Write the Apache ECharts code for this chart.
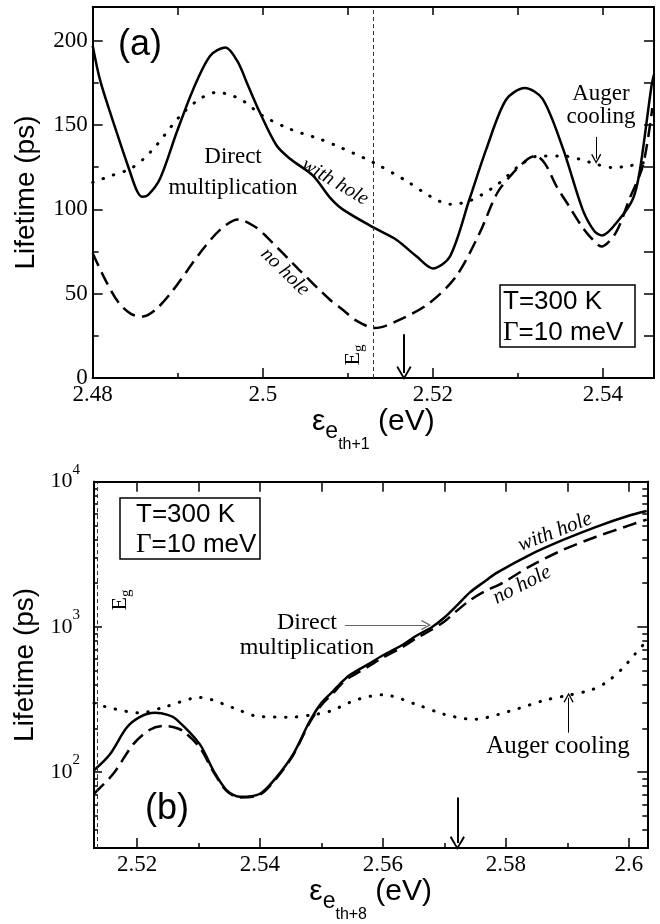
<!DOCTYPE html>
<html>
<head>
<meta charset="utf-8">
<script src="https://cdn.jsdelivr.net/npm/echarts@6/dist/echarts.min.js"></script>
<style>
html, body {margin: 0; padding: 0; background: #fff;}
#main {width: 660px; height: 924px;}
</style>
</head>
<body>
<div id="main"></div>
<script>
// panel (a): lifetime (ps) vs energy, linear scale
var aWithHole = [[2.4800,197],[2.4809,176],[2.4828,146],[2.4844,122],[2.4852,111],[2.4858,107.5],
    [2.4865,108.5],[2.4879,118],[2.4899,146],[2.4918,171],[2.4938,191],[2.4956,196],[2.4970,188],
    [2.4983,173],[2.4996,158],[2.5016,138],[2.5032,130],[2.5059,120],[2.5079,107],[2.5094,100],
    [2.5131,89],[2.5157,82],[2.5181,72],[2.5200,65],[2.5220,72],[2.5243,106],[2.5263,136],
    [2.5286,165],[2.5308,172],[2.5329,165.5],[2.5353,136],[2.5376,100],[2.5390,87],[2.5399,84.5],
    [2.5419,94],[2.5435,106],[2.5443,122],[2.5457,173],[2.5460,180]];
var aNoHole = [[2.4800,74],[2.4815,58],[2.4830,45],[2.4845,38],[2.4859,36.5],[2.4875,41],
    [2.4895,52.4],[2.4926,74],[2.4950,88],[2.4971,94],[2.4990,90],[2.5004,84],[2.5043,64],
    [2.5079,46.4],[2.5094,40.5],[2.5110,34],[2.5132,29.6],[2.5165,35.5],[2.5196,44.5],[2.5227,60],
    [2.5255,86],[2.5276,110],[2.5295,122],[2.5312,130],[2.5321,131.7],[2.5332,127],[2.5345,114],
    [2.5360,102],[2.5375,90],[2.5388,82],[2.5398,78],[2.5415,86],[2.5431,106],[2.5447,126],[2.5458,160]];
var aAuger = [[2.4800,116],[2.4822,120],[2.4844,124],[2.4860,130],[2.4875,138],[2.4903,155.5],
    [2.4926,165.5],[2.4946,169.4],[2.4973,165.5],[2.5000,155.5],[2.5032,147.6],[2.5067,141.7],
    [2.5090,137],[2.5130,127.8],[2.5169,116.8],[2.5196,108],[2.5220,103],[2.5243,105],[2.5274,114],
    [2.5302,126],[2.5325,131.7],[2.5353,131.7],[2.5372,129.8],[2.5392,126.8],[2.5411,124.8],
    [2.5431,125.8],[2.5456,128.7]];

// panel (b): lifetime (ps) vs energy, log scale
var bWithHole = [[2.5130,103],[2.5156,133],[2.5183,202],[2.5205,240],[2.5229,256],[2.5250,248],
    [2.5264,231],[2.5302,156],[2.5324,103],[2.5346,75],[2.5367,67.6],[2.5400,71],[2.5427,92.5],
    [2.5454,133],[2.5481,225],[2.5500,300],[2.5519,362],[2.5535,425],[2.5546,467],[2.5575,550],
    [2.5600,638],[2.5630,745],[2.5655,873],[2.5680,1000],[2.5700,1160],[2.5720,1400],[2.5741,1722],
    [2.5765,2050],[2.5785,2355],[2.5839,3138],[2.5893,3971],[2.5947,4890],[2.6002,5871],[2.6029,6281]];
var bNoHole = [[2.5130,71],[2.5161,97],[2.5194,156],[2.5220,195],[2.5243,208],[2.5260,204],
    [2.5275,192],[2.5302,148],[2.5324,101],[2.5346,74],[2.5367,67],[2.5400,70],[2.5427,91],
    [2.5454,131],[2.5481,220],[2.5500,290],[2.5519,350],[2.5535,415],[2.5546,450],[2.5575,530],
    [2.5600,615],[2.5630,720],[2.5655,840],[2.5680,960],[2.5700,1090],[2.5720,1290],[2.5741,1520],
    [2.5765,1750],[2.5795,2014],[2.5839,2612],[2.5893,3396],[2.5947,4180],[2.6002,5023],[2.6029,5486]];
var bAuger = [[2.5130,299],[2.5156,277],[2.5205,256],[2.5248,284],[2.5302,327],[2.5357,277],
    [2.5395,243],[2.5449,239],[2.5487,249],[2.5514,263],[2.5557,315],[2.5600,341],[2.5655,292],
    [2.5700,250],[2.5747,231],[2.5806,263],[2.5866,315],[2.5904,340],[2.5940,370],[2.5965,420],
    [2.5990,520],[2.6010,650],[2.6029,800]];

// ticks
var aXTicks = [2.48, 2.5, 2.52, 2.54];
var aXMinor = [2.49, 2.51, 2.53];
var aXTop = [2.49, 2.5, 2.51, 2.52, 2.53, 2.54];
var aYTicks = [0, 50, 100, 150, 200];
var aYMinor = [25, 75, 125, 175];
var aYRight = [25, 50, 75, 100, 125, 150, 175, 200];
var bXTicks = [2.52, 2.54, 2.56, 2.58, 2.6];
var bXMinor = [2.53, 2.55, 2.57, 2.59];
var bXTop = [2.52, 2.53, 2.54, 2.55, 2.56, 2.57, 2.58, 2.59, 2.6];
var bYTicks = [100, 1000, 10000];
var bYMinor = [40, 50, 60, 70, 80, 90, 200, 300, 400, 500, 600, 700, 800, 900,
    2000, 3000, 4000, 5000, 6000, 7000, 8000, 9000];

var aEg = 2.513, aArrowX = 2.5166, aAugerX = 2.5392;
var bEg = 2.5135, bArrowX = 2.5721, bAugerX = 2.5902;

var SERIF = 'Liberation Serif', SANS = 'Liberation Sans';
var chevron = 'path://M5,0L10,9L9,10L5,2.5L1,10L0,9Z';

function fmtNum(v) { return String(parseFloat(v.toFixed(3))); }

function axis(o) {
    var a = {
	type: o.type || 'value',
	gridIndex: o.grid,
	position: o.pos,
	min: o.min, max: o.max,
	axisLine: {show: true, onZero: false, lineStyle: {color: '#000', width: 2}},
	axisTick: {show: true, inside: true, length: o.len, customValues: o.ticks,
		   lineStyle: {color: '#000', width: 1.5}},
	axisLabel: {show: false},
	splitLine: {show: false},
	minorTick: {show: false},
	silent: true
    };
    if (o.labels) {
	a.axisLabel = {show: true, customValues: o.labels, margin: o.margin || 5,
		       fontFamily: SERIF, fontSize: 23, color: '#000',
		       formatter: o.formatter || fmtNum, rich: o.rich};
    }
    if (o.name) {
	a.name = o.name;
	a.nameLocation = 'middle';
	a.nameGap = o.nameGap;
	a.nameRotate = o.nameRotate;
	a.nameTextStyle = o.nameStyle;
    }
    return a;
}

function xName(sub) {
    return {
	name: '{eps|ε}{e|e}{th|' + sub + '}{ev| (eV)}',
	style: {
	    rich: {
		eps: {fontFamily: SANS, fontSize: 30, color: '#000', verticalAlign: 'top'},
		e: {fontFamily: SANS, fontSize: 23, color: '#000', verticalAlign: 'top', padding: [13, 0, 0, 0]},
		th: {fontFamily: SANS, fontSize: 16, color: '#000', verticalAlign: 'top', padding: [30, 0, 0, 0]},
		ev: {fontFamily: SANS, fontSize: 30, color: '#000', verticalAlign: 'top'}
	    }
	}
    };
}
var yNameStyle = {fontFamily: SANS, fontSize: 28, color: '#000'};

var nA = xName('th+1'), nB = xName('th+8');

var xAxes = [
    axis({grid: 0, pos: 'bottom', min: 2.48, max: 2.546, len: 10, ticks: aXTicks, labels: aXTicks,
	  name: nA.name, nameGap: 28, nameStyle: nA.style}),
    axis({grid: 0, pos: 'bottom', min: 2.48, max: 2.546, len: 5, ticks: aXMinor}),
    axis({grid: 0, pos: 'top', min: 2.48, max: 2.546, len: 8, ticks: aXTop}),
    axis({grid: 1, pos: 'bottom', min: 2.513, max: 2.603, len: 10, ticks: bXTicks, labels: bXTicks,
	  name: nB.name, nameGap: 27, nameStyle: nB.style}),
    axis({grid: 1, pos: 'bottom', min: 2.513, max: 2.603, len: 5, ticks: bXMinor}),
    axis({grid: 1, pos: 'top', min: 2.513, max: 2.603, len: 10, ticks: bXTop})
];

var yAxes = [
    axis({grid: 0, pos: 'left', min: 0, max: 220, len: 10, ticks: aYTicks, labels: aYTicks,
	  name: 'Lifetime (ps)', nameGap: 52, nameRotate: 90, nameStyle: yNameStyle}),
    axis({grid: 0, pos: 'left', min: 0, max: 220, len: 6, ticks: aYMinor}),
    axis({grid: 0, pos: 'right', min: 0, max: 220, len: 10, ticks: aYRight}),
    axis({type: 'log', grid: 1, pos: 'left', min: 30, max: 10000, len: 8, ticks: bYTicks, labels: bYTicks,
	  margin: 14,
	  formatter: function (v) { return '{b|10}{s|' + Math.round(Math.log10(v)) + '}'; },
	  rich: {b: {fontFamily: SERIF, fontSize: 22, color: '#000'},
		 s: {fontFamily: SERIF, fontSize: 15, color: '#000', padding: [0, 0, 24, 0]}},
	  name: 'Lifetime (ps)', nameGap: 52, nameRotate: 90, nameStyle: yNameStyle}),
    axis({type: 'log', grid: 1, pos: 'left', min: 30, max: 10000, len: 4, ticks: bYMinor}),
    axis({type: 'log', grid: 1, pos: 'right', min: 30, max: 10000, len: 10, ticks: bYTicks}),
    axis({type: 'log', grid: 1, pos: 'right', min: 30, max: 10000, len: 5, ticks: bYMinor})
];

function curve(data, xi, yi, kind) {
    var ls = {color: '#000', width: 2.5};
    if (kind === 'dash') ls.type = [14, 7];
    if (kind === 'dot') { ls.type = [0.5, 10.5]; ls.cap = 'round'; ls.width = 3; }
    return {type: 'line', xAxisIndex: xi, yAxisIndex: yi, data: data, showSymbol: false,
	    smooth: 0.3, lineStyle: ls, silent: true};
}

// vertical dashed E_g line
function egLine(x, y0, y1) {
    return {silent: true, animation: false, symbol: ['none', 'none'], label: {show: false},
	    lineStyle: {color: '#333', width: 1, type: [4, 3]},
	    data: [[{coord: [x, y0]}, {coord: [x, y1]}]]};
}
// arrows with an open head at the end point
function arrows(list, color, width, size) {
    return {silent: true, animation: false, symbol: ['none', chevron], symbolSize: size,
	    label: {show: false},
	    lineStyle: {color: color, width: width, type: 'solid'},
	    data: list.map(function (p) { return [{coord: p[0]}, {coord: p[1]}]; })};
}

var sA1 = curve(aWithHole, 0, 0, 'solid');
sA1.markLine = arrows([[[aArrowX, 26], [aArrowX, 3]]], '#000', 2, [15, 14]);
var sA2 = curve(aNoHole, 0, 0, 'dash');
sA2.markLine = egLine(aEg, 0, 220);
var sA3 = curve(aAuger, 0, 0, 'dot');
sA3.markLine = arrows([[[aAugerX, 143], [aAugerX, 130]]], '#000', 1, [10, 10]);

var sB1 = curve(bWithHole, 3, 3, 'solid');
sB1.markLine = arrows([[[bArrowX, 67], [bArrowX, 32.5]]], '#000', 2, [15, 14]);
var sB2 = curve(bNoHole, 3, 3, 'dash');
sB2.markLine = egLine(bEg, 30, 10000);
var sB3 = curve(bAuger, 3, 3, 'dot');
sB3.markLine = arrows([[[bAugerX, 187], [bAugerX, 325]]], '#000', 1, [10, 10]);
var sB4 = {type: 'line', xAxisIndex: 3, yAxisIndex: 3, data: [], silent: true,
	   markLine: arrows([[[2.5538, 1033], [2.5670, 1033]]], '#666', 1.2, [10, 10])};

function txt(x, y, text, font, extra) {
    var st = {text: text, font: font, fill: '#000', align: 'center', verticalAlign: 'middle'};
    for (var k in (extra && extra.style || {})) st[k] = extra.style[k];
    return {type: 'text', x: x, y: y, rotation: extra && extra.rotation || 0, style: st, silent: true};
}
function eg(x, y) {
    return {type: 'text', x: x, y: y, rotation: Math.PI / 2, silent: true,
	    style: {text: '{E|E}{g|g}', align: 'center', verticalAlign: 'middle',
		    rich: {E: {fontFamily: SERIF, fontSize: 22, fill: '#000'},
			   g: {fontFamily: SERIF, fontSize: 15, fill: '#000', padding: [12, 0, 0, 0]}}}};
}
function box(x, y, w, h, tx, ty1, ty2) {
    return [
	{type: 'rect', shape: {x: x, y: y, width: w, height: h}, silent: true,
	 style: {fill: '#fff', stroke: '#000', lineWidth: 1.5}},
	txt(tx, ty1, 'T=300 K', '26px ' + SANS, {style: {align: 'left'}}),
	{type: 'text', x: tx, y: ty2, silent: true,
	 style: {text: '{g|Γ}{t|=10 meV}', align: 'left', verticalAlign: 'middle',
		 rich: {g: {fontFamily: SERIF, fontSize: 27, fill: '#000'},
			t: {fontFamily: SANS, fontSize: 26, fill: '#000'}}}}
    ];
}

var graphics = [
    txt(140, 45, '(a)', '36px ' + SANS),
    txt(233, 172, 'Direct\nmultiplication', '23px ' + SERIF, {style: {lineHeight: 31}}),
    txt(335, 182, 'with hole', 'italic 20px ' + SERIF, {rotation: -0.53}),
    txt(285, 272, 'no hole', 'italic 20px ' + SERIF, {rotation: -0.77}),
    txt(601, 105, 'Auger\ncooling', '23px ' + SERIF, {style: {lineHeight: 23}}),
    eg(353, 355),
    txt(167, 809, '(b)', '36px ' + SANS),
    txt(307, 635, 'Direct\nmultiplication', '24px ' + SERIF, {style: {lineHeight: 25}}),
    txt(555, 532, 'with hole', 'italic 21px ' + SERIF, {rotation: 0.37}),
    txt(522, 585, 'no hole', 'italic 21px ' + SERIF, {rotation: 0.47}),
    txt(558, 746, 'Auger cooling', '25px ' + SERIF),
    eg(120, 600)
].concat(box(500, 285, 135, 62, 503, 302, 333)).concat(box(120, 498, 140, 61, 136, 515, 545));

var chart = echarts.init(document.getElementById('main'), null, {renderer: 'canvas'});
chart.setOption({
    animation: false,
    backgroundColor: '#fff',
    grid: [
	{left: 92.7, top: 7, right: 6, bottom: 546},
	{left: 94, top: 481.7, right: 12.7, bottom: 71.7}
    ],
    xAxis: xAxes,
    yAxis: yAxes,
    series: [sA1, sA2, sA3, sB1, sB2, sB3, sB4],
    graphic: graphics
});
</script>
</body>
</html>
